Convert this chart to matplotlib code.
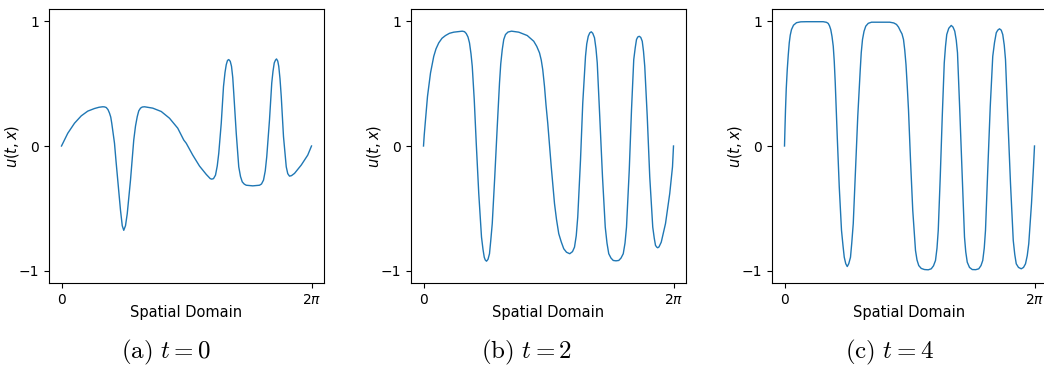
import numpy as np
import matplotlib
matplotlib.use("Agg")
import matplotlib.pyplot as plt

# (x as fraction of [0, 2pi], u) pairs
pts_a = [(0, 0), (0.025, 0.102), (0.052, 0.183), (0.079, 0.242), (0.105, 0.280), (0.132, 0.301),
         (0.150, 0.311), (0.165, 0.315), (0.172, 0.314), (0.179, 0.309), (0.186, 0.292),
         (0.192, 0.264), (0.197, 0.232), (0.201, 0.183), (0.206, 0.110), (0.212, 0.022),
         (0.218, -0.120), (0.225, -0.274), (0.236, -0.516), (0.243, -0.640), (0.249, -0.677),
         (0.256, -0.640), (0.263, -0.543), (0.276, -0.274), (0.289, 0.048), (0.296, 0.160),
         (0.303, 0.236), (0.309, 0.282), (0.316, 0.304), (0.323, 0.313), (0.332, 0.315),
         (0.365, 0.304), (0.399, 0.277), (0.432, 0.223), (0.465, 0.143), (0.489, 0.048),
         (0.499, 0.022), (0.525, -0.073), (0.552, -0.161), (0.579, -0.228), (0.595, -0.262),
         (0.601, -0.266), (0.608, -0.262), (0.616, -0.234), (0.623, -0.160), (0.629, -0.059),
         (0.639, 0.183), (0.648, 0.478), (0.654, 0.590), (0.659, 0.653), (0.664, 0.687),
         (0.669, 0.694), (0.675, 0.680), (0.680, 0.640), (0.685, 0.550), (0.689, 0.425),
         (0.699, 0.102), (0.709, -0.167), (0.716, -0.245), (0.723, -0.288), (0.731, -0.306),
         (0.739, -0.315), (0.765, -0.320), (0.792, -0.315), (0.800, -0.305), (0.808, -0.274),
         (0.815, -0.200), (0.821, -0.086), (0.832, 0.210), (0.841, 0.506), (0.846, 0.600),
         (0.851, 0.667), (0.856, 0.690), (0.860, 0.699), (0.865, 0.682), (0.869, 0.640),
         (0.874, 0.540), (0.879, 0.398), (0.888, 0.075), (0.899, -0.167), (0.905, -0.222),
         (0.912, -0.242), (0.920, -0.238), (0.932, -0.220), (0.959, -0.153), (0.985, -0.073),
         (1.0, 0)]

pts_b = [(0, 0), (0.003, 0.090), (0.008, 0.210), (0.016, 0.398), (0.028, 0.586), (0.041, 0.720),
         (0.050, 0.780), (0.061, 0.828), (0.074, 0.865), (0.088, 0.887), (0.104, 0.905),
         (0.121, 0.914), (0.155, 0.922), (0.164, 0.918), (0.171, 0.903), (0.178, 0.875),
         (0.184, 0.828), (0.190, 0.740), (0.195, 0.640), (0.203, 0.371), (0.211, 0.022),
         (0.221, -0.381), (0.232, -0.731), (0.238, -0.830), (0.243, -0.893), (0.247, -0.915),
         (0.252, -0.925), (0.258, -0.910), (0.264, -0.865), (0.269, -0.760), (0.275, -0.623),
         (0.285, -0.248), (0.295, 0.156), (0.304, 0.506), (0.309, 0.660), (0.315, 0.774),
         (0.321, 0.855), (0.328, 0.895), (0.338, 0.915), (0.352, 0.922), (0.381, 0.914),
         (0.415, 0.887), (0.441, 0.841), (0.453, 0.800), (0.464, 0.748), (0.471, 0.690),
         (0.477, 0.613), (0.484, 0.478), (0.490, 0.330), (0.497, 0.183), (0.511, -0.167),
         (0.524, -0.462), (0.532, -0.590), (0.541, -0.704), (0.551, -0.770), (0.561, -0.825),
         (0.572, -0.853), (0.585, -0.865), (0.596, -0.848), (0.604, -0.812), (0.611, -0.720),
         (0.617, -0.570), (0.628, -0.113), (0.637, 0.344), (0.648, 0.720), (0.653, 0.820),
         (0.659, 0.881), (0.665, 0.908), (0.671, 0.917), (0.677, 0.905), (0.684, 0.869),
         (0.690, 0.780), (0.695, 0.667), (0.705, 0.236), (0.716, -0.248), (0.727, -0.651),
         (0.734, -0.780), (0.741, -0.865), (0.750, -0.900), (0.759, -0.919), (0.770, -0.922),
         (0.781, -0.919), (0.790, -0.900), (0.799, -0.865), (0.806, -0.780), (0.812, -0.651),
         (0.823, -0.194), (0.832, 0.290), (0.841, 0.694), (0.847, 0.790), (0.852, 0.855),
         (0.857, 0.875), (0.863, 0.881), (0.869, 0.872), (0.875, 0.841), (0.880, 0.760),
         (0.885, 0.640), (0.895, 0.236), (0.905, -0.248), (0.917, -0.651), (0.923, -0.740),
         (0.928, -0.798), (0.933, -0.812), (0.937, -0.817), (0.942, -0.810), (0.951, -0.772),
         (0.968, -0.623), (0.985, -0.381), (0.996, -0.167), (1.0, 0)]

pts_c = [(0, 0), (0.002, 0.150), (0.004, 0.290), (0.007, 0.460), (0.011, 0.613), (0.015, 0.730),
         (0.019, 0.828), (0.023, 0.890), (0.028, 0.935), (0.036, 0.970), (0.048, 0.990),
         (0.065, 0.997), (0.088, 0.998), (0.155, 0.998), (0.168, 0.993), (0.175, 0.984),
         (0.180, 0.965), (0.185, 0.935), (0.190, 0.880), (0.195, 0.801), (0.199, 0.680),
         (0.203, 0.506), (0.211, 0.075), (0.219, -0.328), (0.228, -0.677), (0.234, -0.800),
         (0.239, -0.893), (0.245, -0.945), (0.251, -0.968), (0.257, -0.945), (0.264, -0.893),
         (0.269, -0.780), (0.275, -0.623), (0.284, -0.194), (0.293, 0.236), (0.303, 0.613),
         (0.307, 0.750), (0.312, 0.855), (0.318, 0.920), (0.325, 0.962), (0.335, 0.985),
         (0.348, 0.994), (0.421, 0.994), (0.437, 0.988), (0.448, 0.976), (0.456, 0.955),
         (0.464, 0.922), (0.470, 0.900), (0.476, 0.855), (0.481, 0.770), (0.486, 0.653),
         (0.491, 0.480), (0.496, 0.290), (0.504, -0.113), (0.513, -0.516), (0.524, -0.839),
         (0.530, -0.915), (0.537, -0.960), (0.547, -0.983), (0.560, -0.992), (0.575, -0.994),
         (0.587, -0.986), (0.596, -0.962), (0.604, -0.919), (0.610, -0.820), (0.615, -0.677),
         (0.623, -0.248), (0.631, 0.236), (0.639, 0.667), (0.644, 0.800), (0.649, 0.895),
         (0.657, 0.945), (0.667, 0.968), (0.674, 0.955), (0.681, 0.922), (0.687, 0.850),
         (0.692, 0.748), (0.701, 0.290), (0.711, -0.248), (0.720, -0.731), (0.725, -0.850),
         (0.731, -0.933), (0.740, -0.975), (0.751, -0.992), (0.765, -0.993), (0.777, -0.986),
         (0.786, -0.960), (0.793, -0.919), (0.799, -0.820), (0.804, -0.677), (0.813, -0.194),
         (0.823, 0.317), (0.833, 0.720), (0.840, 0.830), (0.847, 0.909), (0.853, 0.930),
         (0.860, 0.941), (0.867, 0.930), (0.873, 0.895), (0.879, 0.810), (0.884, 0.694),
         (0.893, 0.236), (0.904, -0.301), (0.915, -0.758), (0.921, -0.870), (0.927, -0.946),
         (0.936, -0.975), (0.947, -0.986), (0.956, -0.975), (0.964, -0.946), (0.971, -0.880),
         (0.977, -0.785), (0.988, -0.462), (0.996, -0.167), (1.0, 0)]

captions = [r"$\mathrm{(a)}\ t = 0$", r"$\mathrm{(b)}\ t = 2$", r"$\mathrm{(c)}\ t = 4$"]

W, H = 1044, 368
fig = plt.figure(figsize=(W / 100, H / 100), dpi=100)

lefts = [49, 411, 772]
cap_x = [166, 527, 889]
for left, pts, cap, cx in zip(lefts, [pts_a, pts_b, pts_c], captions, cap_x):
    xs, us = zip(*sorted(pts))
    ax = fig.add_axes([left / W, (H - 283) / H, 275 / W, 274 / H])
    ax.plot(2 * np.pi * np.array(xs), us, color='#1f77b4', lw=1.0)
    ax.set_ylim(-1.1, 1.1)
    ax.set_xticks([0, 2 * np.pi])
    ax.set_xticklabels(['0', r'$2\pi$'])
    ax.set_yticks([-1, 0, 1])
    ax.tick_params(labelsize=10)
    ax.set_xlabel('Spatial Domain', fontsize=10.5)
    ax.set_ylabel(r'$u(t, x)$', fontsize=10.5)
    ax.yaxis.set_label_coords(-0.103, 0.5)
    ax.xaxis.set_label_coords(0.5, -0.08)
    fig.text(cx / W, 1 - 352 / H, cap, ha='center', va='center', fontsize=18,
             math_fontfamily='cm')

fig.savefig('out.png', dpi=100)
